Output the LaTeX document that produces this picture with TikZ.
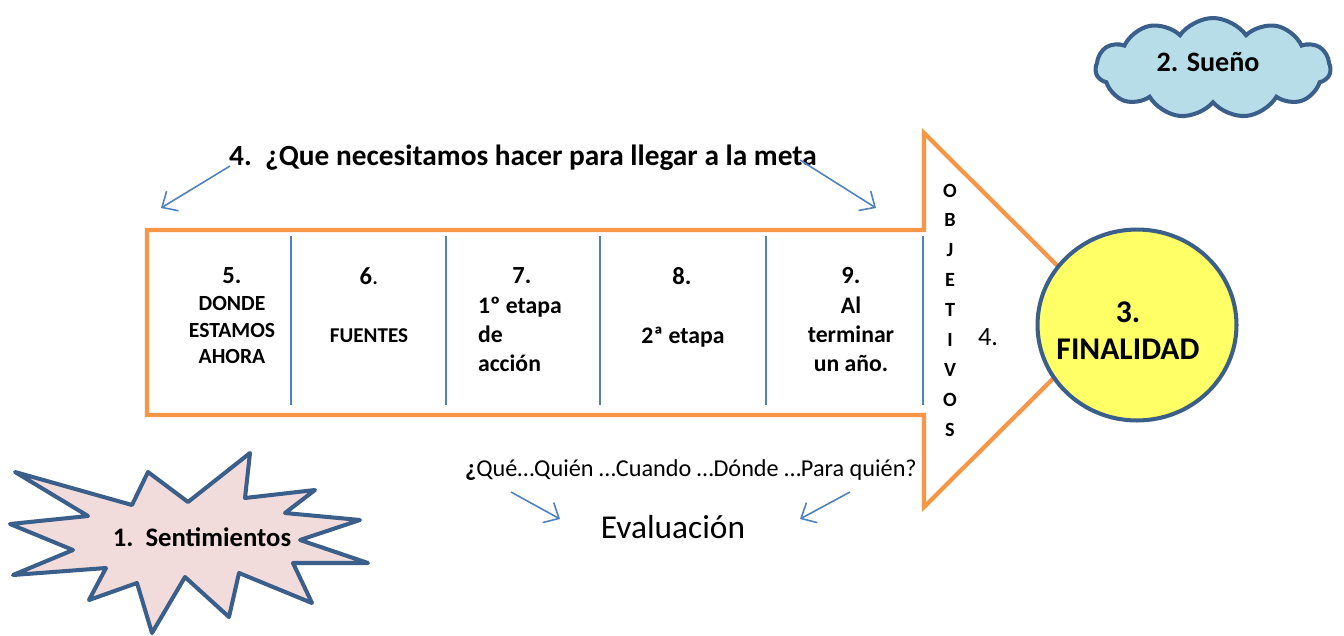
\documentclass[tikz,border=0pt]{standalone}
\usepackage{fontspec}
\setmainfont{Carlito}
\usepackage{tikz}
\usetikzlibrary{arrows.meta,shapes.symbols,shapes.geometric}
\definecolor{naranja}{HTML}{F79646}
\definecolor{azul}{HTML}{4F81BD}
\definecolor{azuloscuro}{HTML}{3A5F8B}
\definecolor{amarillo}{HTML}{FFFF66}
\definecolor{celeste}{HTML}{B7DEE8}
\definecolor{rosa}{HTML}{F2DCDB}

\begin{document}
\begin{tikzpicture}[x=0.02cm,y=-0.02cm]
\tikzstyle{every node}=[inner sep=1pt]
\tikzstyle{flecha}=[draw=azul, line width=0.9pt, -{Straight Barb[length=7pt,width=13pt]}]
\tikzstyle{num}=[font=\bfseries\fontsize{14}{16}\selectfont]
\tikzstyle{celda}=[font=\bfseries\fontsize{13.5}{16.5}\selectfont, align=center]
\tikzstyle{borde}=[draw=azuloscuro, line width=2.3pt]
\useasboundingbox[fill=white] (0,0) rectangle (1344,635);
\draw[naranja, line width=2.4pt, fill=white] (147,230) -- (924,230) -- (924,133) -- (1112,320) -- (924,507) -- (924,415) -- (147,415) -- cycle;
\foreach \x in {291,446,600,766,923}
  \draw[azul, line width=0.8pt] (\x,236) -- (\x,405);
\node[num] (n5) at (232,276) {5.};
\node[font=\bfseries\fontsize{12.3}{15.3}\selectfont, align=center] (t5) at (232,330) {DONDE\\ESTAMOS\\AHORA};
\node[num] (n6) at (369,276) {{\bfseries 6}\mdseries.};
\node[font=\bfseries\fontsize{12}{14}\selectfont] (t6) at (369,336) {FUENTES};
\node[num] (n7) at (522,276) {7.};
\node[celda, align=left, anchor=west] (t7) at (476,334) {1º etapa\\de\\acción};
\node[num] (n8) at (682,276) {8.};
\node[celda] (t8) at (683,337) {2ª etapa};
\node[num] (n9) at (851,276) {9.};
\node[celda] (t9) at (851,334) {Al\\terminar\\un año.};
\node[font=\bfseries\fontsize{11.5}{17}\selectfont, align=center] (obj) at (950,310) {O\\B\\J\\E\\T\\I\\V\\O\\S};
\node[font=\fontsize{15}{18}\selectfont] (cuatro) at (988,337) {4.};
\node[ellipse, borde, fill=amarillo, minimum width=3.98cm, minimum height=3.82cm] (meta) at (1137,325) {};
\node[font=\bfseries\fontsize{18}{21}\selectfont, align=center] (fin) at (1128,331) {3.\\FINALIDAD};
\node[cloud, cloud puffs=11, cloud puff arc=110, aspect=2.3, borde, fill=celeste, minimum width=4.7cm, minimum height=2cm] (nube) at (1213,68) {};
\node[font=\bfseries\fontsize{16}{19}\selectfont] (sueno) at (1208,62) {2. Sueño};
\draw[borde, fill=rosa, line join=round] (15,472) -- (88,516) -- (10,524) -- (73,550) -- (13,575) -- (106,568) -- (89,600) -- (137,583) -- (152,633) -- (185,577) -- (229,617) -- (239,573) -- (312,603) -- (293,563) -- (368,563) -- (300,540) -- (360,520) -- (285,513) -- (315,490) -- (245,498) -- (250,453) -- (188,502) -- (148,472) -- (132,505) -- cycle;
\node[font=\bfseries\fontsize{15.2}{18}\selectfont] (sent) at (202,537) {1.\ \ Sentimientos};
\node[font=\bfseries\fontsize{16.7}{19}\selectfont] (titulo) at (523,158) {4.\ \ ¿Que necesitamos hacer para llegar a la meta};
\node[font=\fontsize{13.8}{16}\selectfont] (preg) at (691,470) {{\bfseries ¿}Qué…Quién …Cuando …Dónde …Para quién?};
\node[font=\fontsize{19}{22}\selectfont] (eval) at (673,527) {Evaluación};
\coordinate (a1) at (230,166);
\coordinate (b1) at (161,208);
\coordinate (a2) at (800,160);
\coordinate (b2) at (876,208);
\coordinate (a3) at (511,492);
\coordinate (b3) at (560,519);
\coordinate (a4) at (850,492);
\coordinate (b4) at (800,519);
\draw[flecha] (a1) -- (b1);
\draw[flecha] (a2) -- (b2);
\draw[flecha] (a3) -- (b3);
\draw[flecha] (a4) -- (b4);
\end{tikzpicture}
\end{document}
